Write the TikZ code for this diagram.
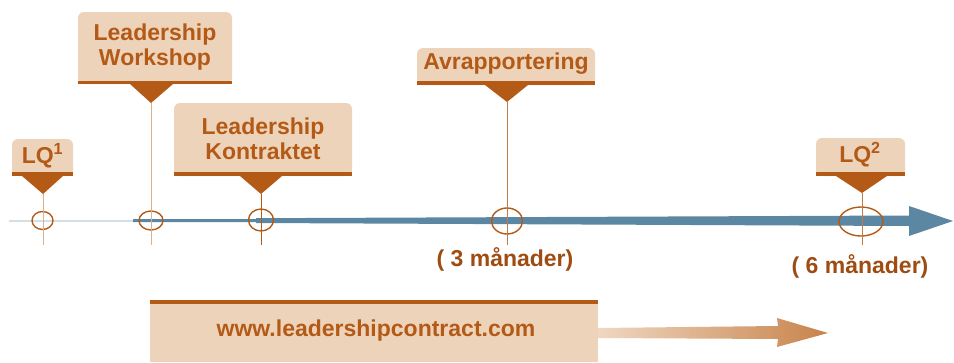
\documentclass[tikz,border=0pt]{standalone}
\usepackage{fontspec}
\setmainfont{Liberation Sans}
\usepackage{tikz}
\usetikzlibrary{shapes.geometric}
\definecolor{peach}{HTML}{EED3BB}
\definecolor{rust}{HTML}{B35A16}
\definecolor{darkrust}{HTML}{9E4C12}
\definecolor{pale}{HTML}{DDB08C}
\definecolor{steel}{HTML}{5B87A2}
\definecolor{mist}{HTML}{D3DFE7}
\definecolor{sandlight}{HTML}{EFD7C2}
\definecolor{sanddark}{HTML}{C8834A}

\begin{document}
\begin{tikzpicture}[
  font=\bfseries\fontsize{23}{25}\selectfont,
  % Everything is measured in points, so the picture is 954 x 362 pt:
  x=1pt,
  % Rows go downward from the top edge (0,0):
  y=1pt,
  card/.style={fill=peach, rounded corners=6pt},
  band/.style={fill=rust},
  lbl/.style={text=rust, align=center, inner sep=0pt},
  ring/.style={ellipse, draw=rust, line width=1.4pt, inner sep=0pt},
  pin/.style={line width=0.9pt}
]
\useasboundingbox (0,0) rectangle (954,-362);

% 1) The time line: a thin pale start, then a blue arrow that widens
\draw[mist, line width=2pt] (9,-220.5) -- (133,-220.5);
\fill[steel] (133,-219) -- (256,-219) -- (256,-218.2) -- (909,-215.5)
  -- (909,-206) -- (953,-221) -- (909,-236) -- (909,-226)
  -- (256,-223) -- (256,-222.2) -- (133,-222.2) -- cycle;

% Rings on the time line, growing towards the end
\node[ring, minimum width=21, minimum height=18] (r1) at (42.5,-220.5) {};
\node[ring, minimum width=24, minimum height=19] (r2) at (151,-220.5) {};
\node[ring, minimum width=25, minimum height=22] (r3) at (261,-220) {};
\node[ring, minimum width=31, minimum height=26] (r4) at (507,-221) {};
\node[ring, minimum width=44, minimum height=29] (r5) at (861,-221.5) {};

% 2) Callout tips and the foot of each pin
\coordinate (t1) at (43,-194);   \coordinate (f1) at (43,-245);
\coordinate (t2) at (151,-103);  \coordinate (f2) at (151,-245);
\coordinate (t3) at (261,-194);  \coordinate (f3) at (261,-245);
\coordinate (t4) at (507,-102);  \coordinate (f4) at (507,-245);
\coordinate (t5) at (862,-193);  \coordinate (f5) at (862,-245);
\draw[pin, pale] (t1) -- (f1);
\draw[pin, pale] (t2) -- (f2);
\draw[pin, rust] (t3) -- (f3);
\draw[pin, rust!80] (t4) -- (f4);
\draw[pin, rust!80] (t5) -- (f5);

% 3) LQ1 callout
\fill[card] (12,-139) rectangle (73,-176);
\fill[band] (12,-172) rectangle (73,-176);
\fill[band] (22,-176) -- (63,-176) -- (t1) -- cycle;
\node[lbl] (lq1) at (42.5,-156) {LQ\textsuperscript{1}};

% 4) Workshop callout
\fill[card] (78,-12) rectangle (232,-84);
\fill[band] (78,-81) rectangle (232,-84);
\fill[band] (130,-84) -- (173,-84) -- (t2) -- cycle;
\node[lbl] (shop) at (155,-47) {Leadership\\Workshop};

% 5) Kontraktet callout
\fill[card] (174,-103) rectangle (352,-176);
\fill[band] (174,-172) rectangle (352,-176);
\fill[band] (240,-176) -- (282,-176) -- (t3) -- cycle;
\node[lbl] (kontrakt) at (263,-139) {Leadership\\Kontraktet};

% 6) Avrapportering callout
\fill[card] (417,-48) rectangle (595,-85);
\fill[band] (417,-81) rectangle (595,-85);
\fill[band] (485,-85) -- (528,-85) -- (t4) -- cycle;
\node[lbl] (avrap) at (506,-64) {Avrapportering};

% 7) LQ2 callout
\fill[card] (816,-138) rectangle (905,-176);
\fill[band] (816,-172) rectangle (905,-176);
\fill[band] (836,-176) -- (887,-176) -- (t5) -- cycle;
\node[lbl] (lq2) at (860,-155) {LQ\textsuperscript{2}};

% Months under the line
\node[lbl, text=darkrust] (m3) at (505,-259) {( 3 månader)};
\node[lbl, text=darkrust] (m6) at (860,-266) {( 6 månader)};

% 8) Web address box with a fading arrow
\fill[peach] (150,-304) rectangle (598,-362);
\fill[band] (150,-300) rectangle (598,-304);
\node[lbl] (url) at (376,-331) {www.leadershipcontract.com};
\shade[left color=sandlight, right color=sanddark]
  (598,-328) -- (778,-326) -- (777,-318) -- (828,-333)
  -- (777,-347) -- (778,-339) -- (598,-338) -- cycle;

\end{tikzpicture}
\end{document}
